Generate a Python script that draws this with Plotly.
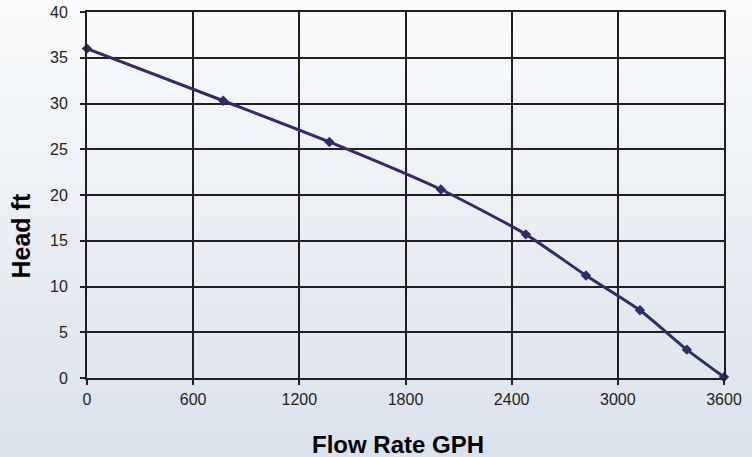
import plotly.graph_objects as go

flow_gph = [0, 770, 1370, 2000, 2480, 2820, 3125, 3390, 3600]
head_ft = [36.0, 30.3, 25.8, 20.6, 15.7, 11.2, 7.4, 3.1, 0.1]
x_ticks = [0, 600, 1200, 1800, 2400, 3000, 3600]
y_ticks = [0, 5, 10, 15, 20, 25, 30, 35, 40]

W, H = 752, 457
ml, mr, mt, mb = 87, 28, 12, 79
pw, ph = W - ml - mr, H - mt - mb

fig = go.Figure()
fig.add_trace(go.Scatter(
    x=flow_gph, y=head_ft, mode="lines+markers",
    line=dict(color="#2c2e6c", width=3, shape="spline", smoothing=0.6),
    marker=dict(symbol="diamond", size=8, color="#2c2e6c"),
    showlegend=False, cliponaxis=False,
))


def to_paper_y(py):
    return (H - mb - py) / ph


def to_paper_x(px):
    return (px - ml) / pw


# vertical gradient background
top = (249, 251, 252)
bot = (220, 226, 236)
n = 60
shapes = []
for i in range(n):
    t = i / (n - 1)
    c = tuple(round(top[k] + (bot[k] - top[k]) * t) for k in range(3))
    y0_px = i * H / n
    y1_px = (i + 1) * H / n + 1
    shapes.append(dict(
        type="rect", xref="paper", yref="paper",
        x0=to_paper_x(-2), x1=to_paper_x(W + 2),
        y0=to_paper_y(y1_px), y1=to_paper_y(y0_px),
        fillcolor="rgb(%d,%d,%d)" % c, line=dict(width=0), layer="below",
    ))

axis_common = dict(
    showgrid=True, gridcolor="#231f20", gridwidth=2,
    showline=True, linecolor="#231f20", linewidth=2, mirror=True,
    ticks="outside", ticklen=5, tickwidth=2, tickcolor="#231f20",
    zeroline=False, automargin=False,
    tickfont=dict(family="Liberation Sans, Arial, sans-serif", size=16, color="#231f20"),
)

title_font = dict(family="Liberation Sans, Arial, sans-serif", size=25, color="#000")

fig.update_layout(
    width=W, height=H,
    margin=dict(l=ml, r=mr, t=mt, b=mb, autoexpand=False),
    paper_bgcolor="rgb(230,235,242)",
    plot_bgcolor="rgba(0,0,0,0)",
    shapes=shapes,
    xaxis=dict(range=[0, 3600], tickvals=x_ticks, ticktext=[str(v) for v in x_ticks],
               ticklabelstandoff=1, **axis_common),
    yaxis=dict(range=[0, 40], tickvals=y_ticks, ticktext=[str(v) for v in y_ticks],
               ticklabelstandoff=9, **axis_common),
    annotations=[
        dict(text="<b>Flow Rate GPH</b>", xref="paper", yref="paper",
             x=to_paper_x(398), y=to_paper_y(444), xanchor="center", yanchor="middle",
             showarrow=False, font=dict(family="Liberation Sans, Arial, sans-serif", size=24, color="#000")),
        dict(text="<b>Head ft</b>", xref="paper", yref="paper", textangle=-90,
             x=to_paper_x(20.5), y=to_paper_y(236), xanchor="center", yanchor="middle",
             showarrow=False, font=title_font),
    ],
)

fig.write_html("out.html", config={"displayModeBar": False},
               post_script="document.body.style.margin='0';document.body.style.overflow='hidden';")
